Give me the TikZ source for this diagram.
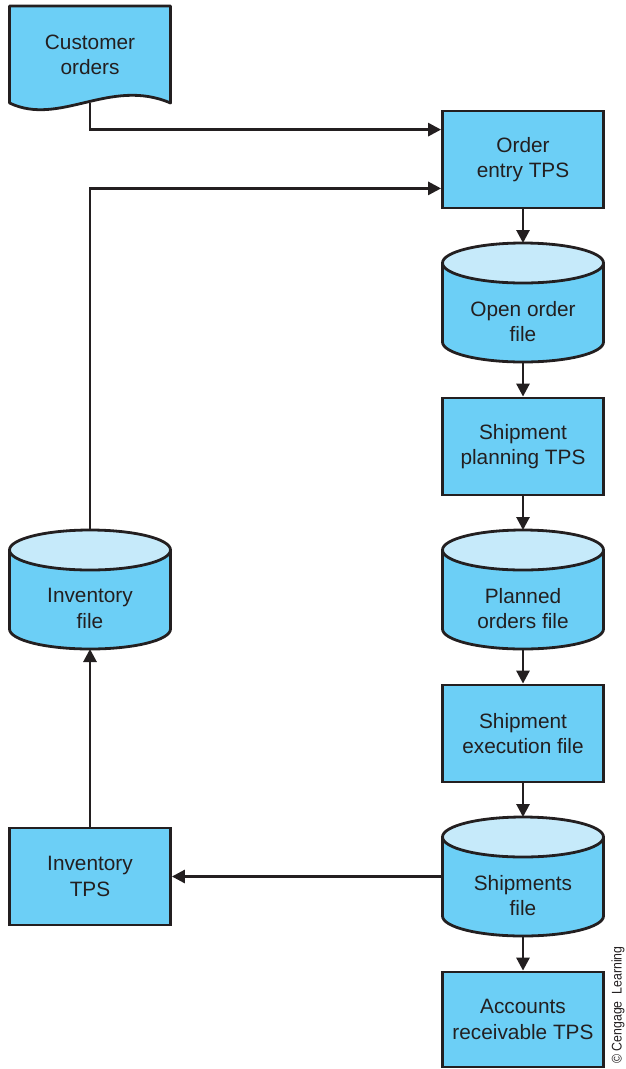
\documentclass[tikz,border=0pt]{standalone}
\usepackage{fontspec}
\setmainfont{Liberation Sans}
\newfontfamily\creditfont[FakeStretch=0.88]{Liberation Sans}
\usetikzlibrary{arrows.meta,calc}
\definecolor{ink}{HTML}{231F20}
\definecolor{bodyblue}{HTML}{6CCFF6}
\definecolor{topblue}{HTML}{C6EAFA}
\tikzset{
  txt/.style={align=center, text=ink, inner sep=0pt, font=\fontsize{20.8}{25.5}\selectfont},
  box/.style={txt, draw=ink, fill=bodyblue, line width=2.8pt,
    minimum width=161pt, minimum height=97pt},
  area/.style={minimum width=161pt, minimum height=119pt, inner sep=0pt, outer sep=0pt},
  outline/.style={draw=ink, line width=2.8pt, line join=round},
  link/.style={draw=ink, line width=2.8pt},
  arr/.style={link, -{Triangle[length=13pt,width=13pt]}}
}
% database drum: name, centre x, top y, label
\newcommand\drum[4]{%
  \node[area] (#1) at (#2,-#3-59.5) {};
  \filldraw[outline, fill=bodyblue] ($(#1.north west)+(0,-20)$) -- ($(#1.south west)+(0,20)$)
    arc[start angle=180, end angle=360, x radius=80.5pt, y radius=20pt]
    -- ($(#1.north east)+(0,-20)$) -- cycle;
  \filldraw[outline, fill=topblue] ($(#1.north)+(0,-20)$) ellipse[x radius=80.5pt, y radius=20pt];
  \node[txt] (#1-label) at ($(#1.center)+(0,-19)$) {#4};
}
\begin{document}
\begin{tikzpicture}[x=1pt,y=1pt]
\useasboundingbox (0,0) rectangle (625,-1069);

% source document
\node[area, minimum height=97pt] (cust) at (90,-54.5) {};
\filldraw[outline, fill=bodyblue] (cust.south west) -- (cust.north west) -- (cust.north east)
  -- (cust.south east) .. controls (110,-77) and (60,-127) .. (cust.south west) -- cycle;
\node[txt] (cust-label) at (90,-55) {Customer\\orders};

% processing chain
\node[box] (order) at (523,-159.5) {Order\\entry TPS};
\drum{open}{523}{243}{Open order\\file}
\node[box] (plan) at (523,-446.5) {Shipment\\planning TPS};
\drum{planned}{523}{530}{Planned\\orders file}
\node[box] (exec) at (523,-733.5) {Shipment\\execution file};
\drum{ship}{523}{817}{Shipments\\file}
\node[box, minimum height=95pt] (ar) at (523,-1019.5) {Accounts\\receivable TPS};

% inventory side
\drum{inv}{90}{530}{Inventory\\file}
\node[box] (invtps) at (90,-876.5) {Inventory\\TPS};

% connectors
\draw[arr] (cust.south) |- ($(order.north west)+(0,-20)$);
\draw[arr] (inv.north) |- ($(order.south west)+(0,21)$);
\draw[arr] (order) -- (open);
\draw[arr] (open) -- (plan);
\draw[arr] (plan) -- (planned);
\draw[arr] (planned) -- (exec);
\draw[arr] (exec) -- (ship);
\draw[arr] (ship) -- (ar);
\draw[arr] (ship.west) -- (invtps.east);
\draw[arr] (invtps) -- (inv);

\node[rotate=90, text=ink, inner sep=0pt, font=\creditfont\fontsize{14}{16}\selectfont] (credit) at (618,-1005) {©\ Cengage\ \ Learning};
\end{tikzpicture}
\end{document}
